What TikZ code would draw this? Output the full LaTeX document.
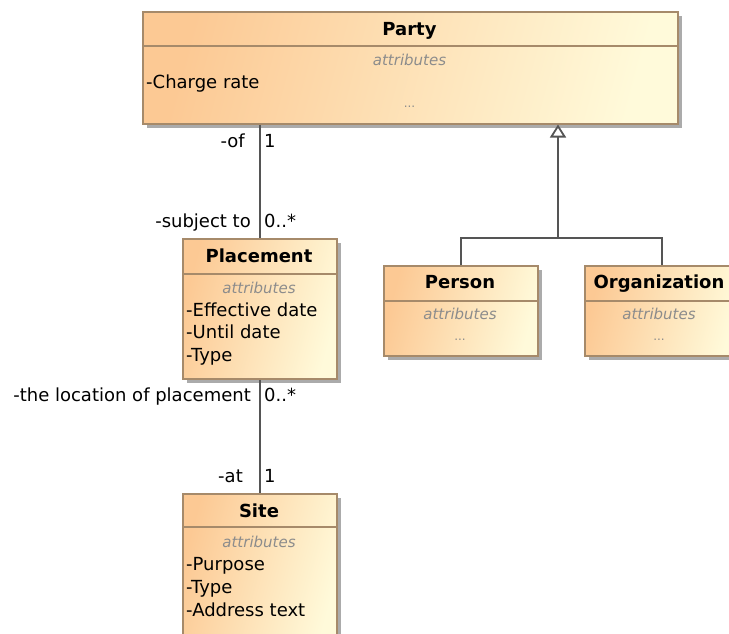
\documentclass[tikz,border=0pt]{standalone}
\usepackage{fontspec}
\setmainfont{DejaVu Sans}
\usetikzlibrary{arrows.meta,shadows}

\definecolor{umlorange}{HTML}{FCC994}
\definecolor{umlyellow}{HTML}{FFFADA}
\definecolor{umlborder}{HTML}{A68A6A}
\definecolor{umlshadow}{HTML}{ABABAB}
\definecolor{umlgray}{HTML}{8C8C8C}
\definecolor{umlline}{HTML}{555555}

\tikzset{
  classbox/.style={draw=umlborder, line width=1.8pt, left color=umlorange,
    right color=umlyellow, shading angle=75, inner sep=0pt, anchor=north west,
    drop shadow={shadow xshift=4pt, shadow yshift=-4pt, fill=umlshadow, opacity=1}},
  classsep/.style={draw=umlborder, line width=1.8pt},
  classname/.style={font=\fontsize{18}{22}\selectfont\bfseries, inner sep=0pt, anchor=base},
  attrhead/.style={font=\fontsize{15}{18}\selectfont\itshape, text=umlgray, inner sep=0pt, anchor=base},
  attr/.style={font=\fontsize{18}{22}\selectfont, inner sep=0pt, anchor=base west},
  more/.style={font=\fontsize{12}{14}\selectfont, text=umlgray, inner sep=0pt, anchor=base},
  role/.style={font=\fontsize{18}{22}\selectfont, inner sep=0pt, anchor=base east},
  mult/.style={font=\fontsize{18}{22}\selectfont, inner sep=0pt, anchor=base west},
  assoc/.style={draw=umlline, line width=2pt},
  inherit/.style={assoc, -{Triangle[open, length=13pt, width=16pt, line width=1.8pt]}}
}

\begin{document}
\begin{tikzpicture}[x=1pt, y=-1pt]

\useasboundingbox (0,0) rectangle (729,633);
\clip (0,0) rectangle (729,633);

% Party
\node[classbox, minimum width=535pt, minimum height=112pt]
(party)
at (142,10.7)
{};

\draw[classsep]
([yshift=-35.5pt]party.north west)
--
([yshift=-35.5pt]party.north east);

\node[classname]
(party-name)
at (409.5,35)
{Party};

\node[attrhead]
(party-head)
at (409.5,65)
{attributes};

\node[attr]
(party-rate)
at (146,88)
{-Charge rate};

\node[more]
(party-more)
at (409.5,107)
{...};

% Placement
\node[classbox, minimum width=154pt, minimum height=140pt]
(placement)
at (182,238)
{};

\draw[classsep]
([yshift=-36pt]placement.north west)
--
([yshift=-36pt]placement.north east);

\node[classname]
(placement-name)
at (259,262)
{Placement};

\node[attrhead]
(placement-head)
at (259,293)
{attributes};

\node[attr]
(placement-from)
at (186,316)
{-Effective date};

\node[attr]
(placement-until)
at (186,338.5)
{-Until date};

\node[attr]
(placement-type)
at (186,361)
{-Type};

% Person
\node[classbox, minimum width=154pt, minimum height=90pt]
(person)
at (383,265)
{};

\draw[classsep]
([yshift=-36pt]person.north west)
--
([yshift=-36pt]person.north east);

\node[classname]
(person-name)
at (460,288)
{Person};

\node[attrhead]
(person-head)
at (460,319)
{attributes};

\node[more]
(person-more)
at (460,340)
{...};

% Organization
\node[classbox, minimum width=154pt, minimum height=90pt]
(organization)
at (584,265)
{};

\draw[classsep]
([yshift=-36pt]organization.north west)
--
([yshift=-36pt]organization.north east);

\node[classname]
(organization-name)
at (659,288)
{Organization};

\node[attrhead]
(organization-head)
at (659,319)
{attributes};

\node[more]
(organization-more)
at (659,340)
{...};

% Site
\node[classbox, minimum width=154pt, minimum height=150pt]
(site)
at (182,493)
{};

\draw[classsep]
([yshift=-34pt]site.north west)
--
([yshift=-34pt]site.north east);

\node[classname]
(site-name)
at (259,517)
{Site};

\node[attrhead]
(site-head)
at (259,547)
{attributes};

\node[attr]
(site-purpose)
at (186,570)
{-Purpose};

\node[attr]
(site-type)
at (186,593)
{-Type};

\node[attr]
(site-address)
at (186,616)
{-Address text};

% Party -- Placement
\draw[assoc]
(party.south -| placement.north)
--
(placement.north);

\node[role]
(role-of)
at (245,147)
{-of};

\node[mult]
(mult-of)
at (264,147)
{1};

\node[role]
(role-subject)
at (251,227)
{-subject to};

\node[mult]
(mult-subject)
at (264,227)
{0..*};

% Placement -- Site
\draw[assoc]
(placement.south)
--
(site.north);

\node[role]
(role-location)
at (251,401)
{-the location of placement};

\node[mult]
(mult-location)
at (264,401)
{0..*};

\node[role]
(role-at)
at (243,482)
{-at};

\node[mult]
(mult-at)
at (264,482)
{1};

% Generalization
\coordinate
(fork)
at (558,238);

\draw[assoc]
(person.north)
|-
(fork)
-|
(organization.north);

\draw[inherit]
(fork)
--
(fork |- party.south);

\end{tikzpicture}
\end{document}
